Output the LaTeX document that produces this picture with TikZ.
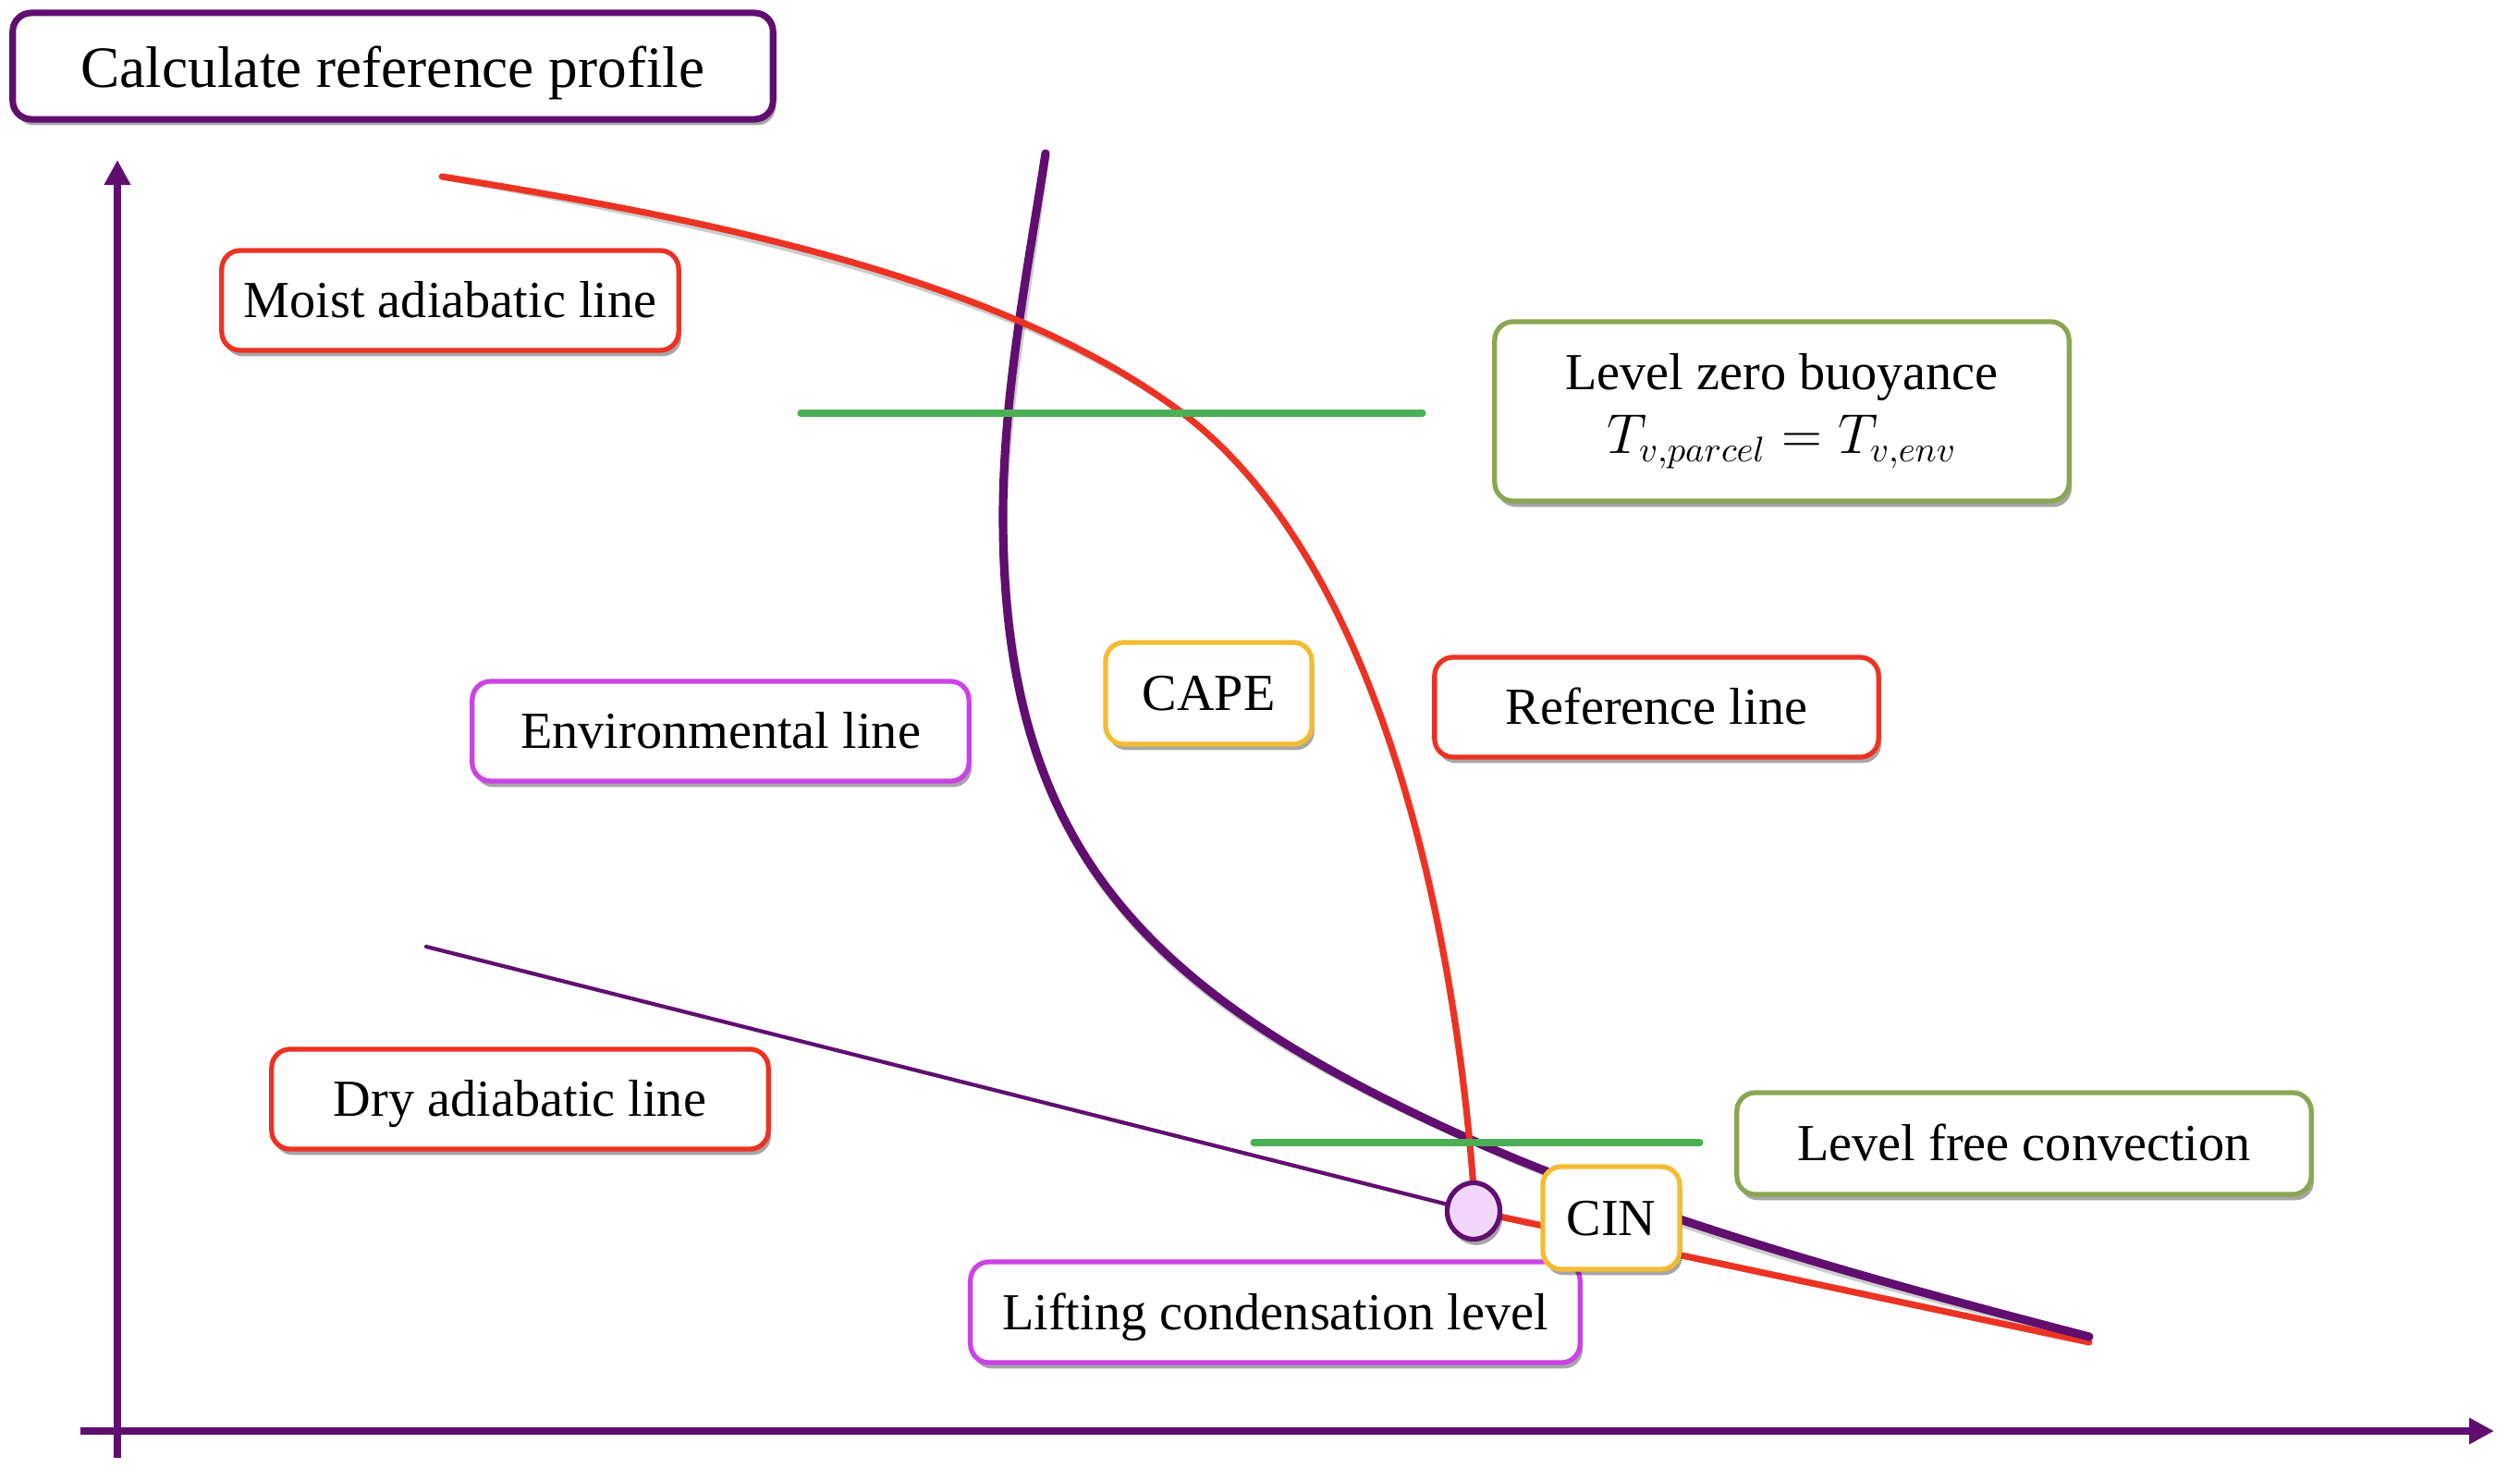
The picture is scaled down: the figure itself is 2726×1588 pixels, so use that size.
\documentclass[tikz,border=0pt]{standalone}
\usepackage{fontspec}
\setmainfont{Liberation Serif}
\usetikzlibrary{arrows.meta,shadows,shapes.geometric}
\definecolor{pur}{HTML}{600E70}
\definecolor{rd}{HTML}{EC3323}
\definecolor{grn}{HTML}{4BAF55}
\definecolor{olv}{HTML}{8AA653}
\definecolor{yel}{HTML}{F4BC33}
\definecolor{mag}{HTML}{CC42E6}
\definecolor{lav}{HTML}{F2D6FA}
\begin{document}
\begin{tikzpicture}[x=0.01cm,y=-0.01cm,
  box/.style={draw, fill=white, rounded corners=0.2cm, line width=1.5pt, align=center, inner sep=0pt,
    font=\fontsize{16}{20}\selectfont,
    drop shadow={shadow xshift=0.8pt, shadow yshift=-1.8pt, opacity=0.35, fill=black}},
  onebox/.style={box, text height=11pt, text depth=0.2pt},
  axis/.style={pur, line width=2.5pt, -{Triangle[width=0.27cm,length=0.27cm]}},
  lineshadow/.style={black, opacity=0.2, shift={(3,6)}},
  envline/.style={pur, line width=2.6pt, line cap=round},
  refline/.style={rd, line width=2pt, line cap=round},
  dryline/.style={pur, line width=1.2pt, line cap=round},
  levelline/.style={grn, line width=2pt, line cap=round}]
\useasboundingbox (0,0) rectangle (2726,1588);

% axes
\coordinate (yb) at (127,1577);
\coordinate (yt) at (127,173);
\coordinate (xl) at (87,1548);
\coordinate (xr) at (2698,1548);
\draw[axis] (yb) -- (yt);
\draw[axis] (xl) -- (xr);

% key points
\coordinate (lclpt) at (1594,1310);
\coordinate (endpt) at (2260,1452);
\coordinate (drystart) at (461,1024);
\coordinate (envtop) at (1131,166);
\coordinate (envleft) at (1085,558);
\coordinate (lfcpt) at (1587,1231);
\coordinate (envend) at (2260,1446);
\coordinate (refstart) at (478,191);
\coordinate (lzbpt) at (1278,446);
\coordinate (refbot) at (1594,1285);

\def\envpath{(envtop) .. controls (1111,296) and (1085,428) .. (envleft)
  .. controls (1085,916) and (1236,1073) .. (lfcpt)
  .. controls (1787,1321) and (2060,1394) .. (envend)}
\def\refpath{(refstart) .. controls (745,234) and (1078,296) .. (lzbpt)
  .. controls (1478,596) and (1569,955) .. (refbot)}

% shadows of lines
\draw[lineshadow, line width=2pt] (lclpt) -- (endpt);
\draw[lineshadow, line width=2.6pt] \envpath;
\draw[lineshadow, line width=2pt] \refpath;

% red bottom (reference below LCL)
\draw[refline] (lclpt) -- (endpt);
% environmental line
\draw[envline] \envpath;
% moist adiabatic / reference line
\draw[refline] \refpath;
% dry adiabatic line
\draw[dryline] (drystart) -- (lclpt);

% level lines
\coordinate (g1a) at (866,447);
\coordinate (g1b) at (1539,447);
\coordinate (g2a) at (1356,1236);
\coordinate (g2b) at (1839,1236);
\draw[levelline] (g1a) -- (g1b);
\draw[levelline] (g2a) -- (g2b);

% LCL point
\node[ellipse, draw=pur, fill=lav, line width=1.5pt, minimum width=0.57cm, minimum height=0.61cm, inner sep=0pt,
  drop shadow={shadow xshift=0.8pt, shadow yshift=-1.8pt, opacity=0.35, fill=black}] (lcl) at (lclpt) {};

% labels
\node[box, draw=pur, line width=2pt, minimum width=8.22cm, minimum height=1.15cm, font=\fontsize{18}{22}\selectfont, text height=13pt, text depth=0pt] (title) at (425,71.5) {Calculate reference profile};
\node[onebox, draw=rd, minimum width=4.94cm, minimum height=1.08cm] (moist) at (487,325) {Moist adiabatic line};
\node[box, draw=olv, minimum width=6.21cm, minimum height=1.94cm] (lzb) at (1927.5,445) {Level zero buoyance\\[-0.5pt] $T_{v,parcel}=T_{v,env}$};
\node[onebox, draw=yel, minimum width=2.23cm, minimum height=1.10cm] (cape) at (1307.5,750) {CAPE};
\node[onebox, draw=rd, minimum width=4.80cm, minimum height=1.08cm] (ref) at (1792,765) {Reference line};
\node[onebox, draw=mag, minimum width=5.37cm, minimum height=1.08cm] (env) at (779.5,791) {Environmental line};
\node[onebox, draw=rd, minimum width=5.37cm, minimum height=1.08cm] (dry) at (562.5,1189) {Dry adiabatic line};
\node[onebox, draw=olv, minimum width=6.21cm, minimum height=1.10cm] (lfc) at (2189.5,1237) {Level free convection};
\node[onebox, draw=mag, minimum width=6.59cm, minimum height=1.09cm] (lcltext) at (1379.5,1419.5) {Lifting condensation level};
\node[onebox, draw=yel, minimum width=1.48cm, minimum height=1.11cm] (cin) at (1743,1317.5) {CIN};
\end{tikzpicture}
\end{document}
